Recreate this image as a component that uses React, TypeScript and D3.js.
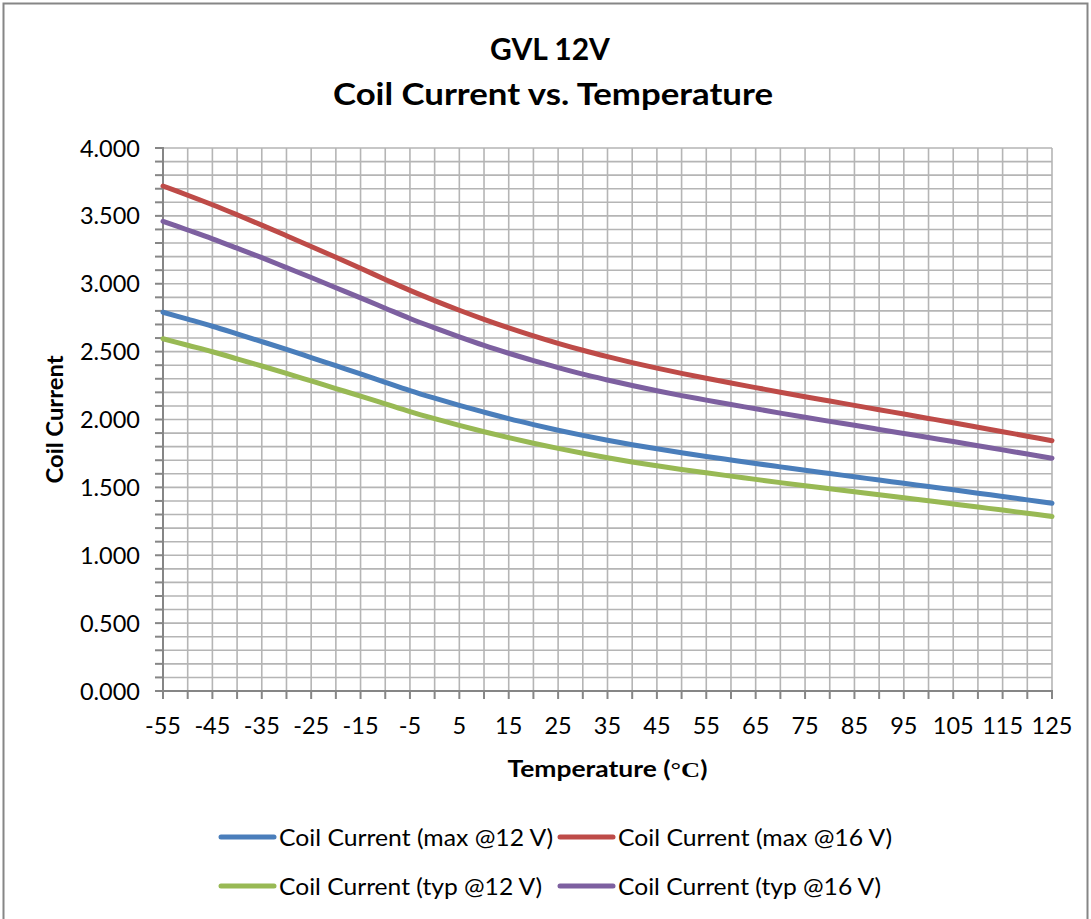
import React from "react";
import * as d3 from "d3";

const temps = [
  -55, -50, -45, -40, -35, -30, -25, -20, -15, -10, -5, 0, 5, 10, 15, 20, 25, 30, 35, 40,
  45, 50, 55, 60, 65, 70, 75, 80, 85, 90, 95, 100, 105, 110, 115, 120, 125,
];

// every 10 degrees, the 5-degree points in between estimated
const max12 = [
  2.79, 2.739, 2.687, 2.631, 2.574, 2.516, 2.456, 2.396, 2.336, 2.274, 2.213, 2.157, 2.104,
  2.054, 2.006, 1.962, 1.921, 1.883, 1.847, 1.814, 1.784, 1.755, 1.728, 1.702, 1.676,
  1.651, 1.626, 1.602, 1.578, 1.554, 1.53, 1.506, 1.482, 1.457, 1.433, 1.408, 1.383,
];
const max16 = [
  3.72, 3.652, 3.582, 3.508, 3.432, 3.354, 3.275, 3.195, 3.114, 3.032, 2.951, 2.876, 2.805,
  2.738, 2.675, 2.616, 2.561, 2.51, 2.463, 2.419, 2.378, 2.34, 2.304, 2.269, 2.235, 2.201,
  2.168, 2.136, 2.104, 2.072, 2.04, 2.008, 1.976, 1.943, 1.91, 1.877, 1.844,
];
const typ12 = [
  2.595, 2.547, 2.499, 2.447, 2.394, 2.34, 2.284, 2.228, 2.172, 2.115, 2.058, 2.006, 1.957,
  1.91, 1.866, 1.825, 1.787, 1.751, 1.718, 1.687, 1.659, 1.632, 1.607, 1.583, 1.559,
  1.535, 1.512, 1.49, 1.468, 1.445, 1.423, 1.401, 1.378, 1.355, 1.333, 1.309, 1.286,
];
const typ16 = [
  3.46, 3.396, 3.331, 3.262, 3.192, 3.119, 3.046, 2.971, 2.896, 2.82, 2.744, 2.675, 2.609,
  2.546, 2.488, 2.433, 2.382, 2.334, 2.291, 2.25, 2.212, 2.176, 2.143, 2.11, 2.079, 2.047,
  2.016, 1.986, 1.957, 1.927, 1.897, 1.867, 1.838, 1.807, 1.776, 1.746, 1.715,
];

const seriesNames = [
  "Coil Current (max @12 V)",
  "Coil Current (max @16 V)",
  "Coil Current (typ @12 V)",
  "Coil Current (typ @16 V)",
];
const seriesColors = ["#4a7ebb", "#be4b48", "#98b954", "#7d60a0"];
const seriesValues = [max12, max16, typ12, typ16];

const yTicks = [0, 0.5, 1, 1.5, 2, 2.5, 3, 3.5, 4];

const W = 1091;
const H = 919;
const FONT = "Lato, 'Noto Sans', sans-serif";

export default function App() {
  const x = d3.scalePoint<number>().domain(temps).range([163, 1052]);
  const y = d3.scaleLinear().domain([0, 4]).range([691, 148]);
  const minor = d3.range(0, 41).map((i) => i / 10);

  const line = d3
    .line<number>()
    .x((_, i) => x(temps[i]) as number)
    .y((d) => y(d))
    .curve(d3.curveCatmullRom.alpha(0.5));

  // legend slots: two columns, two rows
  const legendX = [219, 558];
  const legendY = [837, 886];
  const legendW = [274, 274, 263, 263];

  return (
    <svg
      width={W}
      height={H}
      style={{ position: "absolute", left: 0, top: 0, background: "#fff" }}
      fontFamily={FONT}
    >
      <rect x={3.5} y={3.5} width={1084} height={H + 10} fill="#fff" stroke="#868686" strokeWidth={2} />

      <g fill="#000" fontWeight="bold" textAnchor="middle">
        <text x={550} y={60} fontSize={30}>
          GVL 12V
        </text>
        <text x={553} y={105} fontSize={30} textLength={440} lengthAdjust="spacingAndGlyphs">
          Coil Current vs. Temperature
        </text>
      </g>

      {/* grid */}
      <g stroke="#b5b5b5" strokeWidth={1.6}>
        {minor.map((v) => (
          <line key={"h" + v} x1={163} x2={1052} y1={y(v)} y2={y(v)} />
        ))}
        {temps.map((t) => (
          <line key={"v" + t} x1={x(t)} x2={x(t)} y1={148} y2={691} />
        ))}
      </g>

      {/* axes */}
      <g stroke="#868686" strokeWidth={2}>
        <line x1={163} x2={163} y1={147} y2={692} />
        <line x1={162} x2={1053} y1={691} y2={691} />
        {minor.map((v) => (
          <line key={"yt" + v} x1={155} x2={163} y1={y(v)} y2={y(v)} />
        ))}
        {temps.map((t) => (
          <line key={"xt" + t} x1={x(t)} x2={x(t)} y1={691} y2={699} />
        ))}
      </g>

      <g fontSize={23.5} fill="#000">
        {yTicks.map((v) => (
          <text key={"yl" + v} x={140} y={y(v) + 8.5} textAnchor="end">
            {d3.format(".3f")(v)}
          </text>
        ))}
        {temps
          .filter((_, i) => i % 2 === 0)
          .map((t) => (
            <text key={"xl" + t} x={x(t)} y={734} textAnchor="middle">
              {t}
            </text>
          ))}
      </g>

      <text x={607.5} y={777} fontSize={22} fontWeight="bold" textAnchor="middle" textLength={200} lengthAdjust="spacingAndGlyphs">
        Temperature (<tspan fontFamily="'Liberation Serif', serif">°C</tspan>)
      </text>
      <text
        transform={`translate(63,419.5) rotate(-90)`}
        fontSize={22}
        fontWeight="bold"
        textAnchor="middle"
        textLength={128}
        lengthAdjust="spacingAndGlyphs"
      >
        Coil Current
      </text>

      {/* series */}
      <g fill="none" strokeWidth={5} strokeLinecap="round">
        {seriesValues.map((vals, i) => (
          <path key={seriesNames[i]} d={line(vals) ?? ""} stroke={seriesColors[i]} />
        ))}
      </g>

      {/* legend */}
      <g fontSize={23}>
        {seriesNames.map((name, i) => {
          const lx = legendX[i % 2];
          const ly = legendY[Math.floor(i / 2)];
          return (
            <g key={name}>
              <line x1={lx + 2} x2={lx + 55} y1={ly} y2={ly} stroke={seriesColors[i]} strokeWidth={5} strokeLinecap="round" />
              <text x={lx + 60} y={ly + 9} textLength={legendW[i]} lengthAdjust="spacingAndGlyphs">
                {name}
              </text>
            </g>
          );
        })}
      </g>
    </svg>
  );
}
